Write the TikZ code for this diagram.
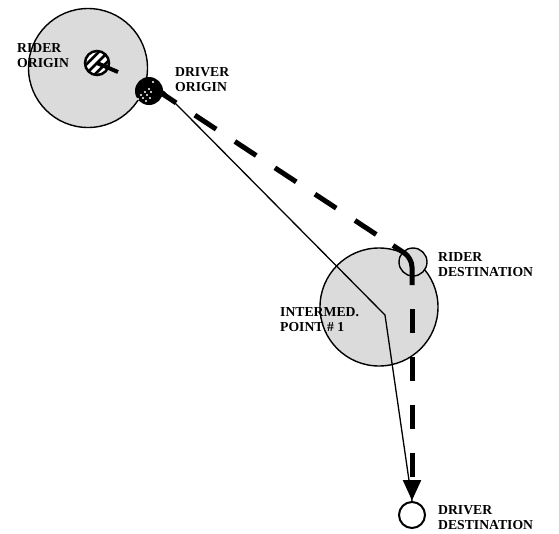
\documentclass[tikz,border=0pt]{standalone}
\usepackage{fontspec}
\setmainfont{Liberation Serif}
\usetikzlibrary{arrows.meta,calc}
\begin{document}
\begin{tikzpicture}[x=1pt,y=-1pt,
  zone/.style={circle, draw=black, line width=1.4pt, fill=black!14, minimum size=119pt, inner sep=0pt},
  lbl/.style={anchor=north west, inner sep=0pt, align=left, font=\fontsize{13.7}{15}\selectfont\bfseries},
  route/.style={line width=1.3pt},
  heavy/.style={line width=5pt},
]
\useasboundingbox (0,0) rectangle (559,533);
% zones
\node[zone] (z1) at (88,68) {};
\node[zone, minimum size=118pt] (z2) at (379,307) {};
\node[circle, draw=black, line width=1.4pt, fill=black!14, minimum size=28pt, inner sep=0pt] (rd) at (413,262) {};
% coordinates of the routes
\coordinate (ip) at (385,315);
\coordinate (dA) at (149,85);
\coordinate (dB) at (393,245.5);
\coordinate (dC) at (412,258);
\coordinate (dD) at (412,285);
\node[circle, draw=black, line width=2pt, fill=white, minimum size=26pt, inner sep=0pt] (dd) at (412,515) {};
\node[circle, minimum size=28pt, inner sep=0pt] (do) at (149,91) {};
% driver route (solid)
\draw[route] (do.east) -- (ip) -- (dd.north);
% shared route (dashed)
\draw[heavy, dash pattern=on 25.5pt off 22.4pt, dash phase=40.9pt] (dA) -- (dB);
\draw[heavy, rounded corners=9pt] (dB) -- (dC) -- (dD);
\draw[heavy, dash pattern=on 24pt off 24pt, dash phase=24pt, -{Triangle[width=17pt,length=21pt]}] (dD) -- (dd.north);
% driver origin symbol
\fill[black] (do) circle (14pt);
\foreach \p in {(153,82),(141,95),(145,92),(149,89),(138,99),(143,98),(147,95),(151,92),(146,101),(150,98)}
  \fill[white] \p circle (1.1pt);
% rider origin symbol
\node[circle, fill=white, minimum size=24pt, inner sep=0pt] (ro) at (97,63) {};
\begin{scope}
  \clip (ro.center) circle (12pt);
  \foreach \k in {-1,0,1}
    \draw[line width=2.6pt] ($(ro.center)+(\k*4.6,\k*4.6)+(-12,12)$) -- ($(ro.center)+(\k*4.6,\k*4.6)+(12,-12)$);
\end{scope}
\draw[line width=2.5pt] (ro.center) circle (12pt);
\draw[line width=4pt] (ro.center) -- (118,72);
% labels
\node[lbl] (tro) at (17,43) {RIDER\\ORIGIN};
\node[lbl] (tdo) at (175,67) {DRIVER\\ORIGIN};
\node[lbl] (trd) at (438,252) {RIDER\\DESTINATION};
\node[lbl] (tip) at (280,307) {INTERMED.\\POINT \# 1};
\node[lbl] (tdd) at (438,505) {DRIVER\\DESTINATION};
\end{tikzpicture}
\end{document}
